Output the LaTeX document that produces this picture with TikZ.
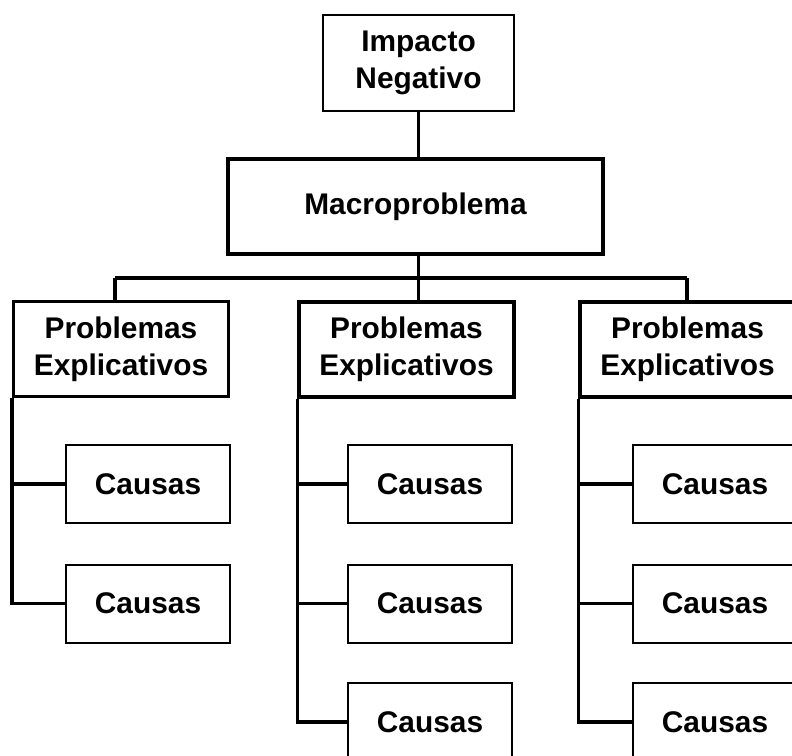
\documentclass[tikz,border=0pt]{standalone}
\usepackage{fontspec}
\setmainfont{Liberation Sans}
\begin{document}
\begin{tikzpicture}[x=0.75pt,y=-0.75pt,
  label font/.style={font=\fontsize{22.4}{27.5}\selectfont\bfseries},
  thinbox/.style={draw=black,line width=1.5pt,fill=white,inner sep=0pt,align=center,label font},
  thickbox/.style={draw=black,line width=2.6pt,fill=white,inner sep=0pt,align=center,label font},
  causebox/.style={thinbox,minimum width=123pt,minimum height=58.5pt},
  probbox/.style={thickbox,minimum width=161.25pt,minimum height=71pt},
  link/.style={draw=black,line width=2.6pt}]
\useasboundingbox[fill=white] (0,0) rectangle (792,756);

% top of the tree
\node[thinbox,minimum width=143.25pt,minimum height=72pt] (imp) at (418.5,63) {Impacto\\Negativo};
\node[thickbox,minimum width=281.25pt,minimum height=71.25pt] (macro) at (415.5,206.5) {Macroproblema};

% explanatory problems
\node[probbox] (pe1) at (121,349) {Problemas\\Explicativos};
\node[probbox] (pe2) at (406.5,349.5) {Problemas\\Explicativos};
\node[probbox] (pe3) at (687.5,349.5) {Problemas\\Explicativos};

% causes
\node[causebox] (c11) at (148,484) {Causas};
\node[causebox] (c12) at (148,603.5) {Causas};
\node[causebox] (c21) at (430,484) {Causas};
\node[causebox] (c22) at (430,603.5) {Causas};
\node[causebox] (c23) at (430,722) {Causas};
\node[causebox] (c31) at (715,484) {Causas};
\node[causebox] (c32) at (715,603.5) {Causas};
\node[causebox] (c33) at (715,722) {Causas};

% branching bus under the macro problem
\coordinate (bl) at (115,278);
\coordinate (br) at (687,278);

\draw[link] (imp.south) -- (macro.north -| imp.south);
\draw[link] (macro.south -| imp.south) -- (pe2.north -| imp.south);
\draw[link] (bl) -- (br);
\draw[link] (bl) -- (bl |- pe1.north);
\draw[link] (br) -- (br |- pe3.north);

\draw[link] (pe1.south west) |- (c11.west);
\draw[link] (pe1.south west) |- (c12.west);
\draw[link] (pe2.south west) |- (c21.west);
\draw[link] (pe2.south west) |- (c22.west);
\draw[link] (pe2.south west) |- (c23.west);
\draw[link] (pe3.south west) |- (c31.west);
\draw[link] (pe3.south west) |- (c32.west);
\draw[link] (pe3.south west) |- (c33.west);
\end{tikzpicture}
\end{document}
